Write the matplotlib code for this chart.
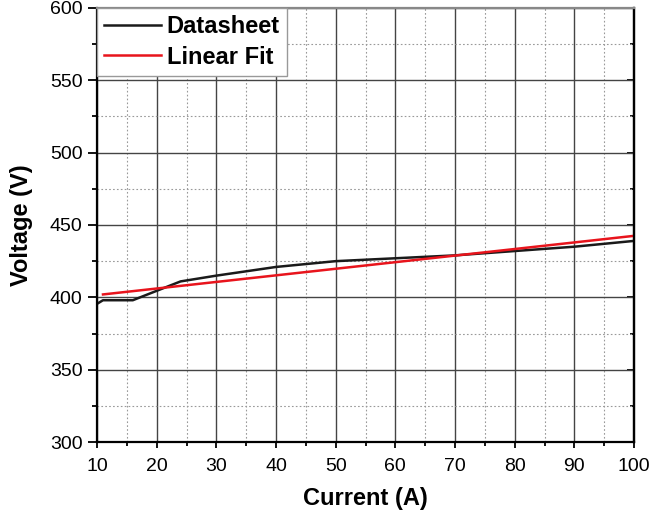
import matplotlib.pyplot as plt
from matplotlib.ticker import MultipleLocator

plt.rcParams["font.family"] = ["Liberation Sans", "DejaVu Sans"]

current = [10, 11, 16, 20, 24, 30, 35, 40, 50, 60, 70, 80, 90, 100]
voltage = [395.5, 398, 398, 404.5, 411, 415, 418, 421, 425, 427, 429, 432, 435, 439]
fit_current = [11, 100]
fit_voltage = [402, 442.5]

fig = plt.figure(figsize=(6.49, 5.18), dpi=100)
ax = fig.add_axes([0.1495, 0.1467, 0.8274, 0.8379])

ax.plot(current, voltage, color="#1a1a1a", lw=1.8, label="Datasheet")
ax.plot(fit_current, fit_voltage, color="#e8141c", lw=1.8, label="Linear Fit")

ax.set_xlim(10, 100)
ax.set_ylim(300, 600)
ax.xaxis.set_major_locator(MultipleLocator(10))
ax.xaxis.set_minor_locator(MultipleLocator(5))
ax.yaxis.set_major_locator(MultipleLocator(50))
ax.yaxis.set_minor_locator(MultipleLocator(25))

ax.grid(which="major", color="#444444", lw=1.0, ls="-")
ax.grid(which="minor", color="#999999", lw=0.8, ls=(0, (1.5, 2)))
ax.set_axisbelow(True)

for s in ax.spines.values():
    s.set_linewidth(1.6)
ax.spines["top"].set_color("#888888")

ax.tick_params(which="both", direction="out", width=1.3, labelsize=14)
ax.tick_params(axis="x", which="major", length=4.5, pad=7)
ax.tick_params(axis="x", which="minor", length=3)
ax.tick_params(axis="y", which="major", length=6.5, pad=4)
ax.tick_params(axis="y", which="minor", length=3.6)

# inward ticks along the right edge
right = ax.secondary_yaxis("right")
right.yaxis.set_major_locator(MultipleLocator(50))
right.yaxis.set_minor_locator(MultipleLocator(25))
right.tick_params(which="both", direction="in", width=1.3, labelright=False)
right.tick_params(which="major", length=5)
right.tick_params(which="minor", length=3)
right.spines["right"].set_linewidth(1.6)

ax.set_xlabel("Current (A)", fontsize=17, fontweight="bold", labelpad=9)
ax.set_ylabel("Voltage (V)", fontsize=17, fontweight="bold", labelpad=12)

leg = ax.legend(loc="upper left", prop={"weight": "bold", "size": 17},
                frameon=True, fancybox=False, borderaxespad=0.0,
                handlelength=2.4, handletextpad=0.25, borderpad=0.3,
                labelspacing=0.32)
leg.get_frame().set_edgecolor("#999999")
leg.get_frame().set_linewidth(1.0)
leg.get_frame().set_alpha(1)

fig.savefig("out.png", dpi=100)
